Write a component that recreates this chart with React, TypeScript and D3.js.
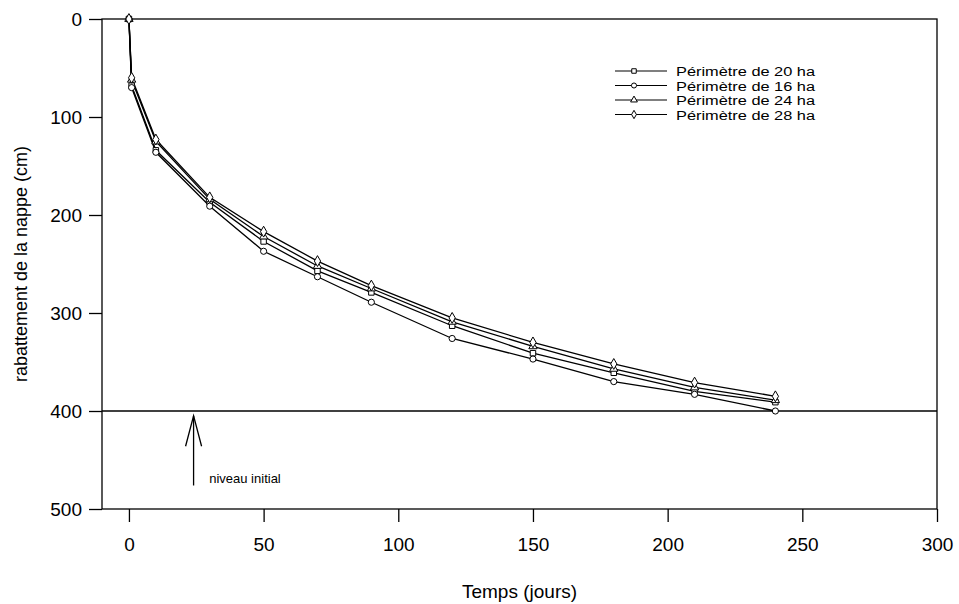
import React, { useEffect, useRef } from 'react'
import * as d3 from 'd3'

// temps (jours)
const days = [0, 1, 10, 30, 50, 70, 90, 120, 150, 180, 210, 240]

// rabattement de la nappe (cm) par périmètre
const ha20 = [0, 68, 134, 187, 227, 257, 279, 313, 341, 361, 380, 391]
const ha16 = [0, 70, 136, 191, 237, 263, 289, 326, 347, 370, 383, 400]
const ha24 = [0, 62, 125, 184, 222, 252, 275, 309, 334, 357, 376, 389]
const ha28 = [0, 60, 123, 182, 217, 247, 272, 305, 330, 352, 371, 385]

const seriesNames = ['Périmètre de 20 ha', 'Périmètre de 16 ha', 'Périmètre de 24 ha', 'Périmètre de 28 ha']
const xTicks = [0, 50, 100, 150, 200, 250, 300]
const yTicks = [0, 100, 200, 300, 400, 500]
const initialLevel = 400

export default function App() {
  const ref = useRef<SVGSVGElement>(null)

  const W = 959
  const H = 604
  const margin = { top: 19, right: 22, bottom: 94, left: 102 }
  const font = "'Liberation Sans', Arial, sans-serif"

  useEffect(() => {
    draw()
  }, [])

  const draw = () => {
    const root = d3.select(ref.current)
    root.selectAll('*').remove()

    const x = d3.scaleLinear().domain([-10, 300]).range([margin.left, W - margin.right])
    const y = d3.scaleLinear().domain([0, 500]).range([margin.top, H - margin.bottom - 1])

    const svg = root.append('g')

    // cadre
    svg.append('rect')
      .attr('x', x(-10)).attr('y', y(0))
      .attr('width', x(300) - x(-10)).attr('height', y(500) - y(0))
      .attr('fill', 'none').attr('stroke', '#000').attr('stroke-width', 1.3)

    // axe x
    const xAxis = svg.append('g')
      .attr('transform', `translate(0,${y(500)})`)
      .call(d3.axisBottom(x).tickValues(xTicks).tickSize(13).tickPadding(16).tickSizeOuter(0))
    xAxis.select('.domain').remove()
    xAxis.selectAll('line').attr('stroke', '#000').attr('stroke-width', 1.3)
    xAxis.selectAll('text').attr('font-family', font).attr('font-size', 19).attr('fill', '#000')

    // axe y
    const yAxis = svg.append('g')
      .attr('transform', `translate(${x(-10)},0)`)
      .call(d3.axisLeft(y).tickValues(yTicks).tickSize(13).tickPadding(7).tickSizeOuter(0))
    yAxis.select('.domain').remove()
    yAxis.selectAll('line').attr('stroke', '#000').attr('stroke-width', 1.3)
    yAxis.selectAll('text').attr('font-family', font).attr('font-size', 19).attr('fill', '#000')

    // niveau initial
    svg.append('line')
      .attr('x1', x(-10)).attr('x2', x(300))
      .attr('y1', y(initialLevel)).attr('y2', y(initialLevel))
      .attr('stroke', '#000').attr('stroke-width', 1.4)

    const ax = x(24)
    svg.append('line')
      .attr('x1', ax).attr('x2', ax)
      .attr('y1', y(405)).attr('y2', y(476))
      .attr('stroke', '#000').attr('stroke-width', 1.3)
    svg.append('path')
      .attr('d', `M${ax - 8},${y(436)} L${ax},${y(405)} L${ax + 8},${y(436)}`)
      .attr('fill', 'none').attr('stroke', '#000').attr('stroke-width', 1.3)
    svg.append('text')
      .attr('x', x(29.8)).attr('y', y(473))
      .attr('font-family', font).attr('font-size', 13)
      .text('niveau initial')

    // courbes
    const series = [ha20, ha16, ha24, ha28]
    const symbols = [d3.symbolSquare, d3.symbolCircle, d3.symbolTriangle, d3.symbolDiamond]
    const sizes = [30, 30, 30, 34]

    const line = d3.line<number>()
      .x((d, i) => x(days[i]))
      .y(d => y(d))

    series.forEach((vals) => {
      svg.append('path')
        .datum(vals)
        .attr('d', line)
        .attr('fill', 'none')
        .attr('stroke', '#000')
        .attr('stroke-width', 1.3)
    })

    series.forEach((vals, s) => {
      svg.append('g')
        .selectAll('path')
        .data(vals)
        .join('path')
        .attr('transform', (d, i) => `translate(${x(days[i])},${y(d)})`)
        .attr('d', d3.symbol().type(symbols[s]).size(sizes[s]))
        .attr('fill', '#fff')
        .attr('stroke', '#000')
        .attr('stroke-width', 1)
    })

    // légende
    const leg = svg.append('g').attr('transform', 'translate(615,71)')
    seriesNames.forEach((name, i) => {
      const row = leg.append('g').attr('transform', `translate(0,${i * 14.5})`)
      row.append('line').attr('x1', 0).attr('x2', 52).attr('y1', 0).attr('y2', 0)
        .attr('stroke', '#000').attr('stroke-width', 1.2)
      row.append('path')
        .attr('transform', 'translate(19,0)')
        .attr('d', d3.symbol().type(symbols[i]).size(20))
        .attr('fill', '#fff').attr('stroke', '#000').attr('stroke-width', 1)
      row.append('text')
        .attr('x', 61).attr('y', 5)
        .attr('font-family', font).attr('font-size', 12.5)
        .attr('textLength', 139).attr('lengthAdjust', 'spacingAndGlyphs')
        .text(name)
    })

    // titres des axes
    svg.append('text')
      .attr('x', (x(-10) + x(300)) / 2).attr('y', 598)
      .attr('text-anchor', 'middle')
      .attr('font-family', font).attr('font-size', 19)
      .text('Temps (jours)')

    svg.append('text')
      .attr('transform', `translate(27,${(y(0) + y(500)) / 2}) rotate(-90)`)
      .attr('text-anchor', 'middle')
      .attr('font-family', font).attr('font-size', 18)
      .text('rabattement de la nappe (cm)')
  }

  return (
    <div>
      <svg ref={ref} width={W} height={H}
        style={{ position: 'absolute', left: 0, top: 0, background: '#fff' }}></svg>
    </div>
  )
}
